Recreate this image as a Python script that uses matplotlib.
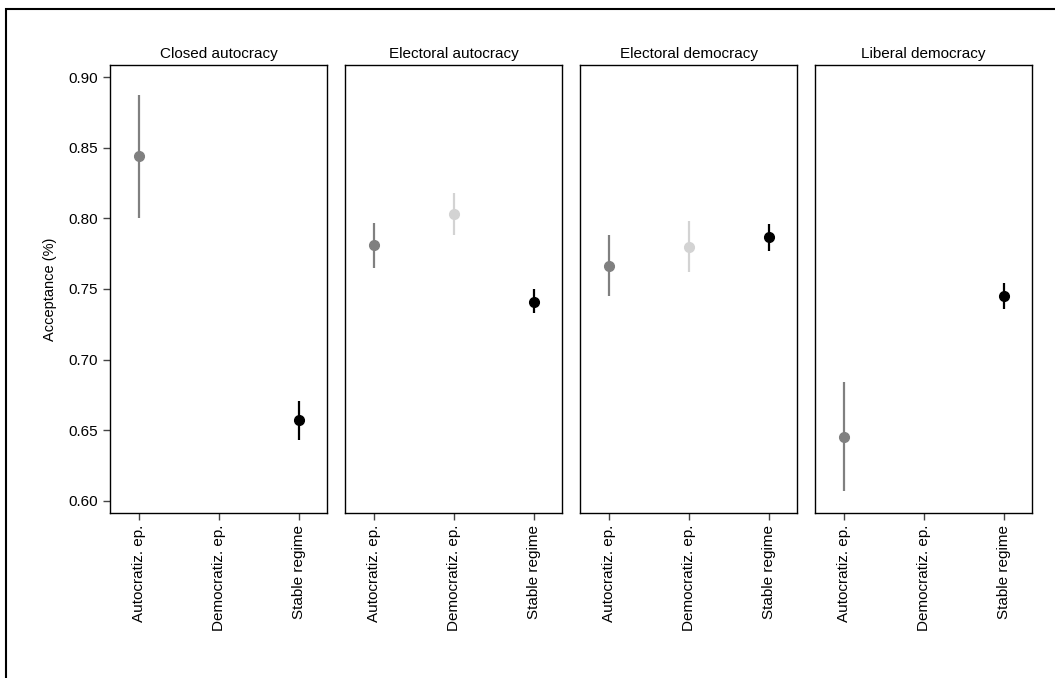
import matplotlib.pyplot as plt
from matplotlib.patches import Rectangle

plt.rcParams['font.family'] = ['Liberation Sans', 'DejaVu Sans']

panels = ["Closed autocracy", "Electoral autocracy", "Electoral democracy", "Liberal democracy"]
categories = ["Autocratiz. ep.", "Democratiz. ep.", "Stable regime"]
colors = ["#808080", "#d3d3d3", "#000000"]

# estimates per panel, None where no point is drawn
est = [
    [0.844, None, 0.657],
    [0.781, 0.803, 0.741],
    [0.766, 0.780, 0.787],
    [0.645, None, 0.745],
]
lo = [
    [0.800, None, 0.643],
    [0.765, 0.788, 0.733],
    [0.745, 0.762, 0.777],
    [0.607, None, 0.736],
]
hi = [
    [0.887, None, 0.671],
    [0.797, 0.818, 0.750],
    [0.788, 0.798, 0.796],
    [0.684, None, 0.754],
]

fig = plt.figure(figsize=(10.55, 6.78), dpi=100)
W, H = 1055, 678
lefts = [110, 345, 580, 815]
pw = 217
top, bottom = 65, 513

axes = []
for i, name in enumerate(panels):
    ax = fig.add_axes([lefts[i] / W, 1 - bottom / H, pw / W, (bottom - top) / H])
    for j in range(3):
        if est[i][j] is None:
            continue
        ax.plot([j + 1, j + 1], [lo[i][j], hi[i][j]], color=colors[j], lw=1.6, solid_capstyle='butt')
        ax.plot(j + 1, est[i][j], 'o', color=colors[j], ms=7)
    ax.set_xlim(0.64, 3.35)
    ax.set_ylim(0.5915, 0.9085)
    ax.set_xticks([1, 2, 3])
    ax.set_xticklabels(categories, rotation=90, fontsize=11)
    ax.set_title(name, fontsize=11, pad=5)
    ax.tick_params(direction='out', length=5, width=1, color='#444444')
    for s in ax.spines.values():
        s.set_linewidth(1)
    if i == 0:
        ax.set_yticks([0.60, 0.65, 0.70, 0.75, 0.80, 0.85, 0.90])
        ax.set_yticklabels(["0.60", "0.65", "0.70", "0.75", "0.80", "0.85", "0.90"], fontsize=11)
        ax.set_ylabel("Acceptance (%)", fontsize=10.5, labelpad=8)
    else:
        ax.set_yticks([])
    axes.append(ax)

# outer frame
fig.patches.append(Rectangle((6 / W, -0.05), 1.1, 1 - 9 / H + 0.05, transform=fig.transFigure,
                             fill=False, edgecolor='black', lw=1.5))

fig.savefig("out.png", dpi=100)
